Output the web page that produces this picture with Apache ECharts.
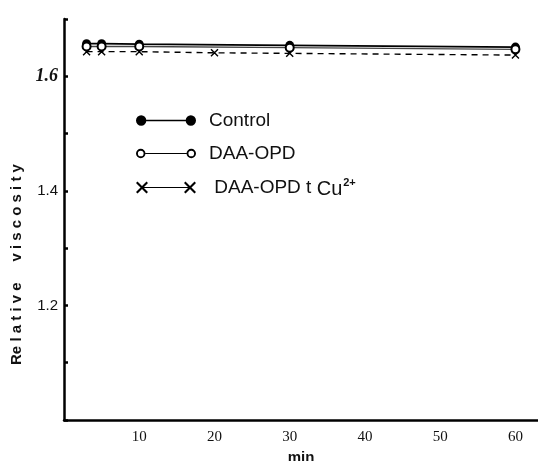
<!DOCTYPE html>
<html>
<head>
<meta charset="utf-8">
<script src="https://cdn.jsdelivr.net/npm/echarts@6/dist/echarts.min.js"></script>
<style>
  html, body { margin: 0; padding: 0; background: #fff; }
  #chart { width: 538px; height: 461px; }
</style>
</head>
<body>
<div id="chart"></div>
<script>
// data
var controlMin = [3, 5, 10, 30, 60];
var controlVal = [1.657, 1.657, 1.656, 1.654, 1.651];
var daaMin = [3, 5, 10, 30, 60];
var daaVal = [1.652, 1.652, 1.652, 1.650, 1.647];
var cuMin = [3, 5, 10, 20, 30, 60];
var cuVal = [1.643, 1.643, 1.643, 1.641, 1.640, 1.637];
var xLabels = [10, 20, 30, 40, 50, 60];
var yLabels = [1.2, 1.4, 1.6];

function pairs(xs, ys) {
    return xs.map(function (x, i) { return [x, ys[i]]; });
}

// legend icons: line with a marker at each end
var iconFilled = 'path://M1,6 A5,5 0 1,1 11,6 A5,5 0 1,1 1,6 Z M49,6 A5,5 0 1,1 59,6 A5,5 0 1,1 49,6 Z M6,5.3 L54,5.3 L54,6.7 L6,6.7 Z';
var iconOpen = 'path://M1.5,6 A4.5,4.5 0 1,1 10.5,6 A4.5,4.5 0 1,1 1.5,6 Z M3.3,6 A2.7,2.7 0 1,0 8.7,6 A2.7,2.7 0 1,0 3.3,6 Z ' +
    'M49.5,6 A4.5,4.5 0 1,1 58.5,6 A4.5,4.5 0 1,1 49.5,6 Z M51.3,6 A2.7,2.7 0 1,0 56.7,6 A2.7,2.7 0 1,0 51.3,6 Z ' +
    'M10.5,5.5 L49.5,5.5 L49.5,6.5 L10.5,6.5 Z';
var iconCross = 'path://M0,1.5 L1.5,0 L12,10.5 L10.5,12 Z M0,10.5 L10.5,0 L12,1.5 L1.5,12 Z ' +
    'M48,1.5 L49.5,0 L60,10.5 L58.5,12 Z M48,10.5 L58.5,0 L60,1.5 L49.5,12 Z M6,5.4 L54,5.4 L54,6.6 L6,6.6 Z';
var crossSymbol = 'path://M0,1.5 L1.5,0 L12,10.5 L10.5,12 Z M0,10.5 L10.5,0 L12,1.5 L1.5,12 Z';

var chart = echarts.init(document.getElementById('chart'));

var option = {
    animation: false,
    backgroundColor: '#fff',
    grid: { left: 64, right: 0, top: 19, bottom: 41, outerBoundsMode: 'none', containLabel: false },
    legend: {
        orient: 'vertical',
        left: 131,
        top: 106,
        itemWidth: 60,
        itemHeight: 12,
        itemGap: 14,
        selectedMode: false,
        itemStyle: { borderWidth: 0, color: '#000' },
        textStyle: {
            fontFamily: 'Liberation Sans, Arial, sans-serif',
            fontSize: 19,
            color: '#111',
            padding: [0, 0, 0, 8],
            rich: {
                cu: { fontSize: 20, fontFamily: 'Liberation Sans, Arial, sans-serif', color: '#111', padding: [4, 0, 0, 0] },
                sup: { fontSize: 11, fontWeight: 'bold', fontFamily: 'Liberation Sans, Arial, sans-serif', color: '#111', padding: [0, 0, 10, 1] }
            }
        },
        formatter: function (name) {
            if (name === 'Cu') return ' DAA-OPD t {cu|Cu}{sup|2+}';
            return name;
        },
        data: [
            { name: 'Control', icon: iconFilled, itemStyle: { borderWidth: 0, color: '#000' } },
            { name: 'DAA-OPD', icon: iconOpen, itemStyle: { borderWidth: 0, color: '#000' } },
            { name: 'Cu', icon: iconCross, itemStyle: { borderWidth: 0, color: '#000' } }
        ]
    },
    xAxis: {
        type: 'value',
        min: 0,
        max: 63,
        interval: 10,
        name: 'min',
        nameLocation: 'middle',
        nameGap: 20,
        nameTextStyle: { fontFamily: 'Liberation Sans, Arial, sans-serif', fontWeight: 'bold', fontSize: 15, color: '#111' },
        axisLine: { lineStyle: { color: '#000', width: 2.5 } },
        axisTick: { show: false },
        splitLine: { show: false },
        axisLabel: {
            margin: 10,
            fontFamily: 'Liberation Serif, Times New Roman, serif',
            fontSize: 15,
            color: '#111',
            formatter: function (v) { return xLabels.indexOf(v) >= 0 ? String(v) : ''; }
        }
    },
    yAxis: {
        type: 'value',
        min: 1.0,
        max: 1.7,
        interval: 0.1,
        name: 'Re l a t i v e     v i s c o s i t y',
        nameLocation: 'middle',
        nameGap: 40,
        nameTextStyle: {
            fontFamily: 'Liberation Sans, Arial, sans-serif',
            fontWeight: 'bold',
            fontSize: 15,
            color: '#111',
            padding: [0, 90, 0, 0]
        },
        axisLine: { lineStyle: { color: '#000', width: 2.5 } },
        axisTick: { show: true, inside: true, length: 4, lineStyle: { color: '#000', width: 2.5 } },
        splitLine: { show: false },
        axisLabel: {
            margin: 6,
            color: '#111',
            fontFamily: 'Liberation Sans Narrow, Liberation Sans, Arial, sans-serif',
            fontSize: 15,
            rich: {
                b: { fontFamily: 'Liberation Serif, Times New Roman, serif', fontWeight: 'bold', fontStyle: 'italic', fontSize: 18, color: '#111' }
            },
            formatter: function (v) {
                var r = Math.round(v * 10) / 10;
                var hit = yLabels.some(function (t) { return Math.abs(t - r) < 1e-6; });
                if (!hit) return '';
                if (Math.abs(r - 1.6) < 1e-6) return '{b|1.6}';
                return r.toFixed(1);
            }
        }
    },
    series: [
        {
            name: 'Control',
            type: 'line',
            data: pairs(controlMin, controlVal),
            symbol: 'circle',
            symbolSize: 9,
            itemStyle: { color: '#000' },
            lineStyle: { color: '#000', width: 1.8 },
            z: 4
        },
        {
            name: 'DAA-OPD',
            type: 'line',
            data: pairs(daaMin, daaVal),
            symbol: 'circle',
            symbolSize: 8,
            itemStyle: { color: '#fff', borderColor: '#000', borderWidth: 2 },
            lineStyle: { color: '#444', width: 1.4 },
            z: 5
        },
        {
            name: 'Cu',
            type: 'line',
            data: pairs(cuMin, cuVal),
            symbol: crossSymbol,
            symbolSize: 8,
            itemStyle: { color: '#000' },
            lineStyle: { color: '#000', width: 1.4, type: [6, 5] },
            z: 3
        }
    ]
};

chart.setOption(option);
</script>
</body>
</html>
